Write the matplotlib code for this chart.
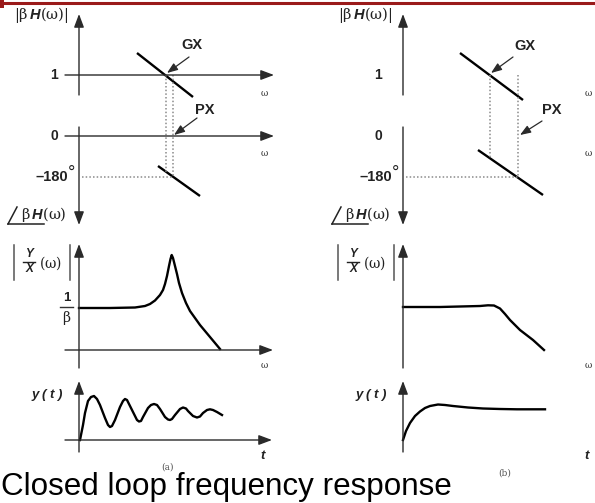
import matplotlib
matplotlib.use("Agg")
import matplotlib.pyplot as plt
from matplotlib.patches import Rectangle

plt.rcParams['mathtext.fontset'] = 'custom'
plt.rcParams['mathtext.rm'] = 'DejaVu Serif'
plt.rcParams['mathtext.it'] = 'DejaVu Serif'
plt.rcParams['mathtext.bf'] = 'Liberation Sans:bold:italic'

# ---- diagram data (pixel frame of the 595x503 picture) ----
DX_B = 324                       # offset of panel (b) relative to panel (a)
AX_X = 79                        # vertical axis of panel (a)
LEVEL_1, LEVEL_0, LEVEL_180 = 75, 136, 177

# loop gain magnitude / phase segments  [x0, x1], [y0, y1]
mag_a_x, mag_a_y = [137, 193], [53, 97]
phase_a_x, phase_a_y = [158, 200], [166, 196]
mag_b_x, mag_b_y = [460, 523], [53, 100]
phase_b_x, phase_b_y = [478, 543], [150, 195]
gx_a, px_a = 166, 173
gx_b, px_b = 490, 518

# closed-loop magnitude |Y/X|
cl_a_x = [79, 110, 135, 145, 150, 155, 160, 163, 165, 167, 169, 170.5, 171.7, 173, 175, 177,
          179, 182, 186, 190, 195, 200, 205, 210, 215, 220]
cl_a_y = [308, 308, 307.5, 306, 304, 300.5, 295, 290, 284, 276, 266, 259, 255, 258, 266, 274,
          283, 293, 303, 311, 318, 325, 331, 337, 343, 349]
cl_b_x = [403, 440, 480, 488, 494, 500, 505, 510, 520, 533, 544]
cl_b_y = [307, 307, 306, 305.3, 305.5, 308.5, 314, 320, 330, 340, 350]

# step responses y(t)
yt_a_x = [80, 83, 85, 88, 91, 94, 97, 100, 105, 108, 110, 112, 115, 120, 123, 125, 127, 130,
          135, 137, 139, 141, 143, 148, 151, 154, 157, 160, 165, 168, 170, 172, 175, 180, 183,
          186, 188, 193, 197, 200, 203, 207, 210, 213, 217, 222]
yt_a_y = [440, 425, 413, 401, 397, 396, 399, 405, 418, 425, 427, 426, 420, 407, 401, 399, 400,
          406, 416, 420, 421.5, 421, 417, 408, 405, 404, 405, 409, 417, 419.5, 420, 419, 415,
          409, 407.5, 408.5, 411, 416, 417.5, 416.5, 413, 410, 409.3, 410, 412, 415]
yt_b_x = [403, 406, 410, 415, 420, 425, 430, 438, 445, 453, 468, 483, 500, 517, 545]
yt_b_y = [440, 431, 423, 416, 411.5, 408, 406, 404.5, 405, 406, 407.5, 408.5, 409, 409.3, 409.3]

AXC = '#2a2a2a'
DOT = dict(color='#8a8a8a', lw=1.1, ls=(0, (1, 1.4)))


def arrow(ax, x0, y0, x1, y1, lw=1.0, scale=10):
    ax.annotate('', xy=(x1, y1), xytext=(x0, y0),
                arrowprops=dict(arrowstyle='-|>,head_length=0.8,head_width=0.3',
                                lw=lw, color=AXC, shrinkA=0, shrinkB=0,
                                mutation_scale=scale))


fig = plt.figure(figsize=(5.95, 5.03), dpi=100)
ax = fig.add_axes([0, 0, 1, 1])
ax.set_xlim(0, 595)
ax.set_ylim(503, 0)
ax.axis('off')

# red rule on top
ax.plot([0, 595], [2.5, 2.5], color='#9a1a1a', lw=2.2, solid_capstyle='butt')
ax.add_patch(Rectangle((0, 0), 3.5, 8, color='#9a1a1a', lw=0))

bi = dict(family='Liberation Sans', fontweight='bold', style='italic', color='#222',
          ha='center', va='center')

for k, dx in enumerate([0, DX_B]):
    x0 = AX_X + dx
    wtxt = dict(family='DejaVu Serif', fontsize=6.5, color='#333', ha='center', va='center')
    lab = dict(family='Liberation Sans', fontweight='bold', fontsize=10, color='#222',
               ha='center', va='center')
    # magnitude axes
    arrow(ax, x0, 95, x0, 14)
    arrow(ax, 65 + dx, LEVEL_1, 274 + dx, LEVEL_1)
    ax.text(54 + dx, LEVEL_1, '1', **lab)
    ax.text(41 + dx, 15, r'$|\beta\,\mathbf{H}(\omega)|$', fontsize=10.5, color='#222',
            ha='center', va='center')
    ax.text(264 + dx, 93, 'ω', **wtxt)
    # phase axes
    arrow(ax, x0, 127, x0, 225)
    arrow(ax, 65 + dx, LEVEL_0, 274 + dx, LEVEL_0)
    ax.text(54 + dx, LEVEL_0, '0', **lab)
    ax.text(264 + dx, 154, 'ω', **wtxt)
    ax.text(68 + dx, LEVEL_180, '\u2013180', ha='right', va='center', fontsize=10.5,
            family='Liberation Sans', fontweight='bold', color='#222')
    ax.text(72 + dx, 173, '°', ha='center', va='center', fontsize=13, color='#222',
            family='Liberation Sans')
    ax.plot([8 + dx, 17 + dx], [224, 207], color='#222', lw=1.1)
    ax.plot([8 + dx, 44 + dx], [224, 224], color='#222', lw=1.1)
    ax.text(44 + dx, 214, r'$\beta\,\mathbf{H}(\omega)$', fontsize=10.5, color='#222',
            ha='center', va='center')
    # closed-loop magnitude axes
    arrow(ax, x0, 368, x0, 244)
    arrow(ax, 65 + dx, 350, 273 + dx, 350)
    ax.text(264 + dx, 366, 'ω', **wtxt)
    ax.plot([14 + dx, 14 + dx], [245, 280], color='#555', lw=1.1)
    ax.plot([70 + dx, 70 + dx], [245, 280], color='#555', lw=1.1)
    ax.text(29 + dx, 254, 'Y', fontsize=8.5, **bi)
    ax.plot([23 + dx, 35 + dx], [261.5, 261.5], color='#222', lw=1.0)
    ax.text(29 + dx, 269, 'X', fontsize=8.5, **bi)
    ax.text(50 + dx, 263, r'$(\omega)$', fontsize=10, color='#222', ha='center', va='center')
    # step response axes
    arrow(ax, x0, 452, x0, 381)
    arrow(ax, 65 + dx, 440, 272 + dx, 440)
    ax.text(263 + dx, 456, 't', fontsize=9.5, **bi)
    ax.text(47 + dx, 395, 'y ( t )', fontsize=9.5, **bi)

# 1/beta label
ax.text(67, 298, '1', family='Liberation Sans', fontweight='bold', fontsize=9.5,
        color='#222', ha='center', va='center')
ax.plot([60, 73], [307, 307], color='#333', lw=1.0)
ax.text(67, 318, r'$\beta$', fontsize=10, color='#222', ha='center', va='center')

# loop-gain lines and crossover markers
for mx, my, phx, phy, gx, px, dx in [(mag_a_x, mag_a_y, phase_a_x, phase_a_y, gx_a, px_a, 0),
                                     (mag_b_x, mag_b_y, phase_b_x, phase_b_y, gx_b, px_b, DX_B)]:
    ax.plot(mx, my, color='k', lw=1.7, solid_capstyle='butt')
    ax.plot(phx, phy, color='k', lw=1.7, solid_capstyle='butt')
    ph_at_gx = phy[0] + (gx - phx[0]) * (phy[1] - phy[0]) / (phx[1] - phx[0])
    mag_end = max(LEVEL_1, my[1]) if px > mx[1] else LEVEL_1
    ax.plot([gx, gx], [LEVEL_1, min(ph_at_gx, LEVEL_180)], **DOT)
    ax.plot([px, px], [mag_end, LEVEL_180], **DOT)
    ax.plot([AX_X + dx + 3, px], [LEVEL_180, LEVEL_180], **DOT)

lab_gp = dict(family='Liberation Sans', fontweight='bold', fontsize=10.5, color='#222',
              ha='center', va='center')
ax.text(192, 45, 'GX', **lab_gp)
ax.text(205, 110, 'PX', **lab_gp)
ax.text(525, 46, 'GX', **lab_gp)
ax.text(552, 110, 'PX', **lab_gp)
arrow(ax, 189, 57, gx_a + 1, 73, lw=0.9, scale=8)
arrow(ax, 197, 118, px_a + 1, 135, lw=0.9, scale=8)
arrow(ax, 513, 57, gx_b + 1, 73, lw=0.9, scale=8)
arrow(ax, 542, 121, px_b + 2, 135, lw=0.9, scale=8)

# closed-loop curves
ax.plot(cl_a_x, cl_a_y, color='k', lw=1.7, solid_joinstyle='round')
ax.plot(cl_b_x, cl_b_y, color='k', lw=1.7, solid_joinstyle='round')
ax.plot(yt_a_x, yt_a_y, color='k', lw=1.7, solid_joinstyle='round')
ax.plot(yt_b_x, yt_b_y, color='k', lw=1.7, solid_joinstyle='round')

ax.text(168, 467, '(a)', family='DejaVu Serif', fontsize=6.5, color='#555',
        ha='center', va='center')
ax.text(505, 473, '(b)', family='DejaVu Serif', fontsize=6.5, color='#555',
        ha='center', va='center')
ax.text(1, 495, 'Closed loop frequency response', family='Liberation Sans', fontsize=22.6,
        color='k', ha='left', va='baseline')

fig.savefig('out.png', dpi=100)
